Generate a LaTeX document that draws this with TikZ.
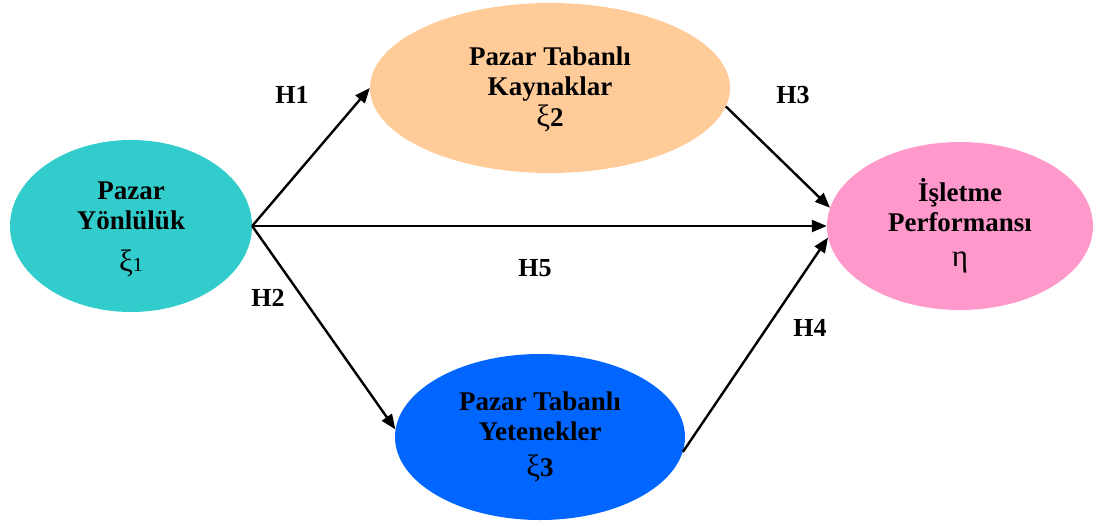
\documentclass[tikz,border=0pt]{standalone}
\usepackage{fontspec}
\setmainfont{Liberation Serif}
\usetikzlibrary{shapes.geometric,arrows.meta}
\definecolor{cteal}{HTML}{33CCCC}
\definecolor{corange}{HTML}{FFCC99}
\definecolor{cpink}{HTML}{FF99CC}
\definecolor{cblue}{HTML}{0066FF}
\newcommand{\grk}[1]{{\mdseries\fontsize{31}{30}\selectfont #1}}
\tikzset{
  construct/.style={ellipse, inner sep=0pt, align=center,
    font=\bfseries\fontsize{27}{30}\selectfont},
  path/.style={line width=2.4pt, -{Triangle[length=15pt,width=12pt]}},
  hlabel/.style={font=\bfseries\fontsize{26}{28}\selectfont, inner sep=0pt},
}
\begin{document}
\begin{tikzpicture}[x=1pt,y=-1pt]
\useasboundingbox (0,0) rectangle (1098,525);
\node[construct, fill=cteal, minimum width=242pt, minimum height=172pt] (lft) at (131,226)
  {\rule{0pt}{25pt}Pazar\\Yönlülük\\[12pt]\grk{ξ}{\mdseries\fontsize{20}{20}\selectfont 1}};
\node[construct, fill=corange, minimum width=360pt, minimum height=170pt] (top) at (550,88)
  {\rule{0pt}{22pt}Pazar Tabanlı\\Kaynaklar\\[1pt]\grk{ξ}2};
\node[construct, fill=cpink, minimum width=266pt, minimum height=168pt] (rgt) at (960,226)
  {İşletme\\Performansı\\[5pt]\grk{η}};
\node[construct, fill=cblue, minimum width=290pt, minimum height=166pt] (bot) at (540,437)
  {Pazar Tabanlı\\Yetenekler\\[6pt]\grk{ξ}3};
\draw[path] (lft.east) -- (top.west);
\draw[path] (lft.east) -- (bot.177);
\draw[path] (lft.east) -- (rgt.west);
\draw[path] (top.-6.3) -- (rgt.172.6);
\draw[path] (bot.-6) -- (rgt.185.6);
\node[hlabel] (h1) at (292,95) {H1};
\node[hlabel] (h2) at (268,298) {H2};
\node[hlabel] (h3) at (793,95) {H3};
\node[hlabel] (h4) at (810,328) {H4};
\node[hlabel] (h5) at (535,268) {H5};
\end{tikzpicture}
\end{document}
